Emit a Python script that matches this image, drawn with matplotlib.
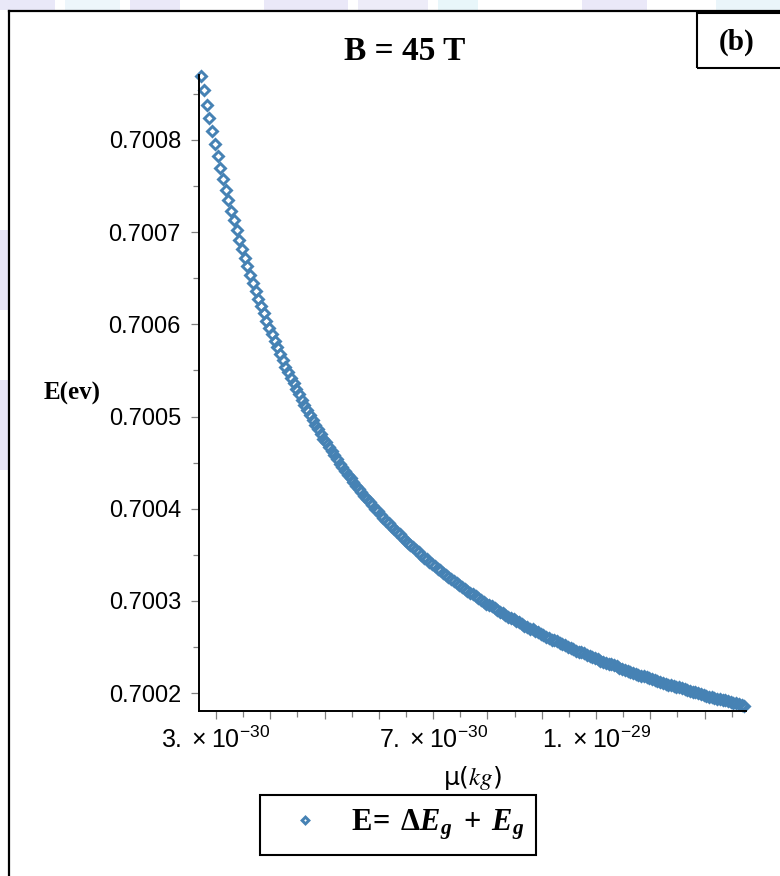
import matplotlib
matplotlib.use('Agg')
import matplotlib.pyplot as plt
from matplotlib.patches import Rectangle
from matplotlib.lines import Line2D
from matplotlib.ticker import MultipleLocator

# reduced mass mu, in units of 1e-30 kg
MU = [2.73, 2.78, 2.83, 2.88, 2.93, 2.98, 3.03, 3.08, 3.13, 3.18,
      3.23, 3.28, 3.33, 3.38, 3.43, 3.48, 3.53, 3.58, 3.63, 3.68,
      3.73, 3.78, 3.83, 3.88, 3.93, 3.98, 4.03, 4.08, 4.13, 4.18,
      4.23, 4.28, 4.33, 4.38, 4.43, 4.48, 4.53, 4.58, 4.63, 4.68,
      4.73, 4.78, 4.83, 4.88, 4.93, 4.98, 5.03, 5.08, 5.13, 5.18,
      5.23, 5.28, 5.33, 5.38, 5.43, 5.48, 5.53, 5.58, 5.63, 5.68,
      5.73, 5.78, 5.83, 5.88, 5.93, 5.98, 6.03, 6.08, 6.13, 6.18,
      6.23, 6.28, 6.33, 6.38, 6.43, 6.48, 6.53, 6.58, 6.63, 6.68,
      6.73, 6.78, 6.83, 6.88, 6.93, 6.98, 7.03, 7.08, 7.13, 7.18,
      7.23, 7.28, 7.33, 7.38, 7.43, 7.48, 7.53, 7.58, 7.63, 7.68,
      7.73, 7.78, 7.83, 7.88, 7.93, 7.98, 8.03, 8.08, 8.13, 8.18,
      8.23, 8.28, 8.33, 8.38, 8.43, 8.48, 8.53, 8.58, 8.63, 8.68,
      8.73, 8.78, 8.83, 8.88, 8.93, 8.98, 9.03, 9.08, 9.13, 9.18,
      9.23, 9.28, 9.33, 9.38, 9.43, 9.48, 9.53, 9.58, 9.63, 9.68,
      9.73, 9.78, 9.83, 9.88, 9.93, 9.98, 10.03, 10.08, 10.13, 10.18,
      10.23, 10.28, 10.33, 10.38, 10.43, 10.48, 10.53, 10.58, 10.63, 10.68,
      10.73, 10.78, 10.83, 10.88, 10.93, 10.98, 11.03, 11.08, 11.13, 11.18,
      11.23, 11.28, 11.33, 11.38, 11.43, 11.48, 11.53, 11.58, 11.63, 11.68,
      11.73, 11.78, 11.83, 11.88, 11.93, 11.98, 12.03, 12.08, 12.13, 12.18,
      12.23, 12.28, 12.33, 12.38, 12.43, 12.48, 12.53, 12.58, 12.63, 12.68,
      12.73]

# energy E = dEg + Eg, in eV
E_EV = [0.700869, 0.700854, 0.700838, 0.700824, 0.700810, 0.700796, 0.700783, 0.700770, 0.700758, 0.700746,
        0.700735, 0.700723, 0.700713, 0.700702, 0.700692, 0.700682, 0.700672, 0.700663, 0.700654, 0.700645,
        0.700636, 0.700628, 0.700620, 0.700612, 0.700604, 0.700596, 0.700589, 0.700582, 0.700575, 0.700568,
        0.700561, 0.700554, 0.700548, 0.700542, 0.700536, 0.700530, 0.700524, 0.700518, 0.700512, 0.700507,
        0.700502, 0.700496, 0.700491, 0.700486, 0.700481, 0.700476, 0.700472, 0.700467, 0.700463, 0.700458,
        0.700454, 0.700449, 0.700445, 0.700441, 0.700437, 0.700433, 0.700429, 0.700425, 0.700421, 0.700418,
        0.700414, 0.700411, 0.700407, 0.700404, 0.700400, 0.700397, 0.700393, 0.700390, 0.700387, 0.700384,
        0.700381, 0.700378, 0.700375, 0.700372, 0.700369, 0.700366, 0.700363, 0.700361, 0.700358, 0.700355,
        0.700353, 0.700350, 0.700347, 0.700345, 0.700342, 0.700340, 0.700338, 0.700335, 0.700333, 0.700330,
        0.700328, 0.700326, 0.700324, 0.700322, 0.700319, 0.700317, 0.700315, 0.700313, 0.700311, 0.700309,
        0.700307, 0.700305, 0.700303, 0.700301, 0.700299, 0.700297, 0.700295, 0.700294, 0.700292, 0.700290,
        0.700288, 0.700287, 0.700285, 0.700283, 0.700281, 0.700280, 0.700278, 0.700277, 0.700275, 0.700273,
        0.700272, 0.700270, 0.700269, 0.700267, 0.700266, 0.700264, 0.700263, 0.700261, 0.700260, 0.700258,
        0.700257, 0.700256, 0.700254, 0.700253, 0.700252, 0.700250, 0.700249, 0.700248, 0.700246, 0.700245,
        0.700244, 0.700243, 0.700241, 0.700240, 0.700239, 0.700238, 0.700237, 0.700235, 0.700234, 0.700233,
        0.700232, 0.700231, 0.700230, 0.700229, 0.700227, 0.700226, 0.700225, 0.700224, 0.700223, 0.700222,
        0.700221, 0.700220, 0.700219, 0.700218, 0.700217, 0.700216, 0.700215, 0.700214, 0.700213, 0.700212,
        0.700211, 0.700210, 0.700209, 0.700209, 0.700208, 0.700207, 0.700206, 0.700205, 0.700204, 0.700203,
        0.700202, 0.700201, 0.700201, 0.700200, 0.700199, 0.700198, 0.700197, 0.700196, 0.700196, 0.700195,
        0.700194, 0.700193, 0.700192, 0.700192, 0.700191, 0.700190, 0.700189, 0.700189, 0.700188, 0.700187,
        0.700186]

X_TICKS = [3, 4, 5, 6, 7, 8, 9, 10, 11, 12]
X_TICK_LABELS = [r'$\mathregular{3.\times10^{-30}}$', '', '', '',
                 r'$\mathregular{7.\times10^{-30}}$', '', '',
                 r'$\mathregular{1.\times10^{-29}}$', '', '']
Y_TICKS = [0.7002, 0.7003, 0.7004, 0.7005, 0.7006, 0.7007, 0.7008]
Y_TICK_LABELS = ['0.7002', '0.7003', '0.7004', '0.7005', '0.7006', '0.7007', '0.7008']

TITLE = 'B = 45 T'
PANEL = '(b)'
LEGEND_LABEL = r'$\mathrm{E}\!=\;\Delta E_g\;+\;E_g$'

# bold serif for the legend maths
plt.rcParams['mathtext.rm'] = 'Liberation Serif:bold'
plt.rcParams['mathtext.it'] = 'Liberation Serif:italic:bold'
plt.rcParams['mathtext.bf'] = 'Liberation Serif:bold'

W, H = 780, 876


def fx(px):
    return px / W


def fy(py):
    return 1 - py / H


fig = plt.figure(figsize=(W / 100, H / 100), dpi=100)
fig.patch.set_facecolor('white')

# faint watermark patches along the top and left edges
for x0, x1, c in [(0, 55, '#e9e8f8'), (65, 120, '#edf6fb'), (130, 180, '#eae8f8'),
                  (264, 348, '#eae8f8'), (358, 428, '#edecf8'), (438, 478, '#e8f6fa'),
                  (582, 647, '#eae8f8'), (716, 780, '#eaf5fa')]:
    fig.add_artist(Rectangle((fx(x0), fy(10)), (x1 - x0) / W, 10 / H,
                             transform=fig.transFigure, color=c, lw=0, zorder=0))
for y0, y1 in [(230, 310), (380, 470)]:
    fig.add_artist(Rectangle((0, fy(y1)), fx(8), (y1 - y0) / H, transform=fig.transFigure,
                             color='#e6e4f6', lw=0, zorder=0))

# outer frame (top and left edges visible)
fig.add_artist(Line2D([fx(9), 1.01], [fy(11), fy(11)], transform=fig.transFigure,
                      color='black', lw=1.6))
fig.add_artist(Line2D([fx(9), fx(9)], [-0.01, fy(11)], transform=fig.transFigure,
                      color='black', lw=1.6))

# panel label box
fig.add_artist(Rectangle((fx(697), fy(68)), 0.2, (68 - 13) / H, transform=fig.transFigure,
                         fill=False, ec='black', lw=1.5))
fig.text(fx(737), fy(42), PANEL, ha='center', va='center',
         fontfamily='Liberation Serif', fontweight='bold', fontsize=21)

fig.text(fx(405), fy(51), TITLE, ha='center', va='center',
         fontfamily='Liberation Serif', fontweight='bold', fontsize=24)

ax = fig.add_axes([fx(199), fy(711), (746 - 199) / W, (711 - 75) / H])
line, = ax.plot(MU, E_EV, linestyle='none', marker='D', markersize=4.6,
                mfc='none', mec='#4682b4', mew=2.1, clip_on=False)

ax.set_xlim(2.687, 12.762)
ax.set_ylim(0.7001805, 0.7008705)

for s in ['top', 'right']:
    ax.spines[s].set_visible(False)
for s in ['left', 'bottom']:
    ax.spines[s].set_linewidth(1.4)

ax.set_xticks(X_TICKS)
ax.set_xticklabels(X_TICK_LABELS, fontfamily='Liberation Sans', fontsize=18)
ax.set_yticks(Y_TICKS)
ax.set_yticklabels(Y_TICK_LABELS, fontfamily='Liberation Sans', fontsize=17)
ax.xaxis.set_minor_locator(MultipleLocator(0.5))
ax.yaxis.set_minor_locator(MultipleLocator(0.00005))
ax.tick_params(which='major', length=6, width=0.9, color='#808080')
ax.tick_params(axis='y', which='major', pad=7)
ax.tick_params(axis='x', which='major', pad=5)
ax.tick_params(which='minor', length=4, width=0.9, color='#808080')

ax.set_ylabel('E(ev)', rotation=0, ha='center', va='center',
              fontfamily='Liberation Serif', fontweight='bold', fontsize=18)
ax.yaxis.set_label_coords(-0.232, (711 - 393) / 636)
ax.set_xlabel('μ(' + r'$kg$' + ')', fontsize=18, fontfamily='DejaVu Sans',
              math_fontfamily='stix', va='center')
ax.xaxis.set_label_coords(0.5, -(778 - 711) / 636)

leg = fig.legend([line], [LEGEND_LABEL], loc='center', bbox_to_anchor=(fx(398), fy(825)),
                 prop={'size': 22, 'math_fontfamily': 'custom'}, frameon=True,
                 fancybox=False, edgecolor='black', framealpha=1, borderpad=0.4,
                 handlelength=2.16, handletextpad=0.42, numpoints=1, markerscale=0.75)
leg.get_frame().set_linewidth(1.5)

fig.savefig('out.png', dpi=100)
